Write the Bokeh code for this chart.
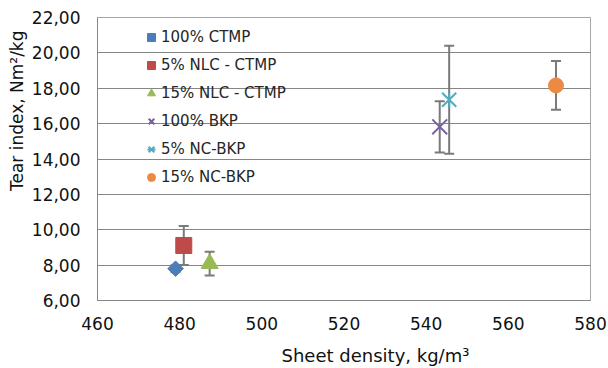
import math
from bokeh.plotting import figure
from bokeh.models import (Range1d, FixedTicker, Whisker, TeeHead, ColumnDataSource,
                          Legend, LegendItem, Title)
from bokeh.embed import file_html
from bokeh.resources import INLINE

# ---- data ----
series = ["100% CTMP", "5% NLC - CTMP", "15% NLC - CTMP", "100% BKP", "5% NC-BKP", "15% NC-BKP"]
density = [479.0, 481.0, 487.3, 543.3, 545.6, 571.6]
tear = [7.80, 9.11, 8.09, 15.82, 17.35, 18.16]
tear_err = [0.20, 1.10, 0.67, 1.45, 3.05, 1.38]
colors = ["#4A7EBB", "#BE4B48", "#98B954", "#7D5FA0", "#4BACC6", "#EB8A42"]

x_ticks = [460, 480, 500, 520, 540, 560, 580]
y_ticks = [6, 8, 10, 12, 14, 16, 18, 20, 22]
y_tick_labels = ["6,00", "8,00", "10,00", "12,00", "14,00", "16,00", "18,00", "20,00", "22,00"]
x_title = "Sheet density, kg/m³"
y_title = "Tear index, Nm²/kg"

FONT = "DejaVu Sans"
GRID = "#868686"

p = figure(width=608, height=368, output_backend="svg", toolbar_location=None,
           x_range=Range1d(460, 580), y_range=Range1d(6, 22),
           min_border_left=97, min_border_right=18, min_border_top=17, min_border_bottom=68)
p.background_fill_color = "white"
p.border_fill_color = "white"
p.outline_line_color = "#a6a6a6"
p.outline_line_width = 1

# axes
for ax in (p.xaxis[0], p.yaxis[0]):
    ax.axis_line_color = GRID
    ax.major_tick_line_color = None
    ax.minor_tick_line_color = None
    ax.major_tick_in = 0
    ax.major_tick_out = 0
    ax.minor_tick_in = 0
    ax.minor_tick_out = 0
    ax.major_label_text_font = FONT
    ax.major_label_text_font_size = "17px"
    ax.major_label_text_color = "#111111"

p.xaxis.ticker = FixedTicker(ticks=x_ticks)
p.yaxis.ticker = FixedTicker(ticks=y_ticks)
p.yaxis.major_label_overrides = {t: l for t, l in zip(y_ticks, y_tick_labels)}
p.xaxis.major_label_standoff = 16
p.yaxis.major_label_standoff = 17

# x title: shifted right of centre like the reference
p.xaxis.axis_label = "\u00a0" * 11 + x_title
p.xaxis.axis_label_text_font = FONT
p.xaxis.axis_label_text_font_size = "18px"
p.xaxis.axis_label_text_font_style = "normal"
p.xaxis.axis_label_text_color = "#111111"
p.xaxis.axis_label_standoff = 12

# y title: placed towards the top like the reference
yt = Title(text=y_title, align="right", offset=13, vertical_align="top", standoff=0,
           text_font=FONT, text_font_size="17px", text_font_style="normal",
           text_color="#111111")
p.add_layout(yt, "left")

p.xgrid.grid_line_color = None
p.ygrid.ticker = FixedTicker(ticks=y_ticks)
p.ygrid.grid_line_color = GRID
p.ygrid.grid_line_width = 1

# error bars
src = ColumnDataSource(dict(
    base=density,
    upper=[t + e for t, e in zip(tear, tear_err)],
    lower=[t - e for t, e in zip(tear, tear_err)],
))
w = Whisker(source=src, base="base", upper="upper", lower="lower", dimension="height",
            line_color="#7a7a7a", line_width=2, level="underlay",
            upper_head=TeeHead(size=10, line_color="#7a7a7a", line_width=2),
            lower_head=TeeHead(size=10, line_color="#7a7a7a", line_width=2))
p.add_layout(w)

# markers
items = []
r0 = p.scatter([density[0]], [tear[0]], marker="square", size=11, angle=math.pi / 4,
               fill_color=colors[0], line_color=colors[0])
items.append(LegendItem(label=series[0], renderers=[r0]))
r1 = p.scatter([density[1]], [tear[1]], marker="square", size=16,
               fill_color=colors[1], line_color=colors[1])
items.append(LegendItem(label=series[1], renderers=[r1]))
r2 = p.scatter([density[2]], [tear[2]], marker="triangle", size=17,
               fill_color=colors[2], line_color=colors[2])
items.append(LegendItem(label=series[2], renderers=[r2]))
r3 = p.scatter([density[3]], [tear[3]], marker="x", size=21, line_width=2,
               line_color=colors[3])
items.append(LegendItem(label=series[3], renderers=[r3]))
r4a = p.scatter([density[4]], [tear[4]], marker="x", size=20, line_width=2,
                line_color=colors[4])
r4b = p.scatter([density[4]], [tear[4]], marker="dash", size=15, angle=math.pi / 2,
                line_width=2, line_color=colors[4])
items.append(LegendItem(label=series[4], renderers=[r4a, r4b]))
r5 = p.scatter([density[5]], [tear[5]], marker="circle", size=15,
               fill_color=colors[5], line_color=colors[5])
items.append(LegendItem(label=series[5], renderers=[r5]))

legend = Legend(items=items, location=(44, 113), glyph_width=20, glyph_height=20,
                label_height=20, spacing=8, padding=0, margin=0, label_standoff=0,
                background_fill_alpha=0, border_line_color=None,
                label_text_font=FONT, label_text_font_size="15px",
                label_text_color="#262626")
p.add_layout(legend)

open("out.html", "w").write(file_html(p, INLINE))
